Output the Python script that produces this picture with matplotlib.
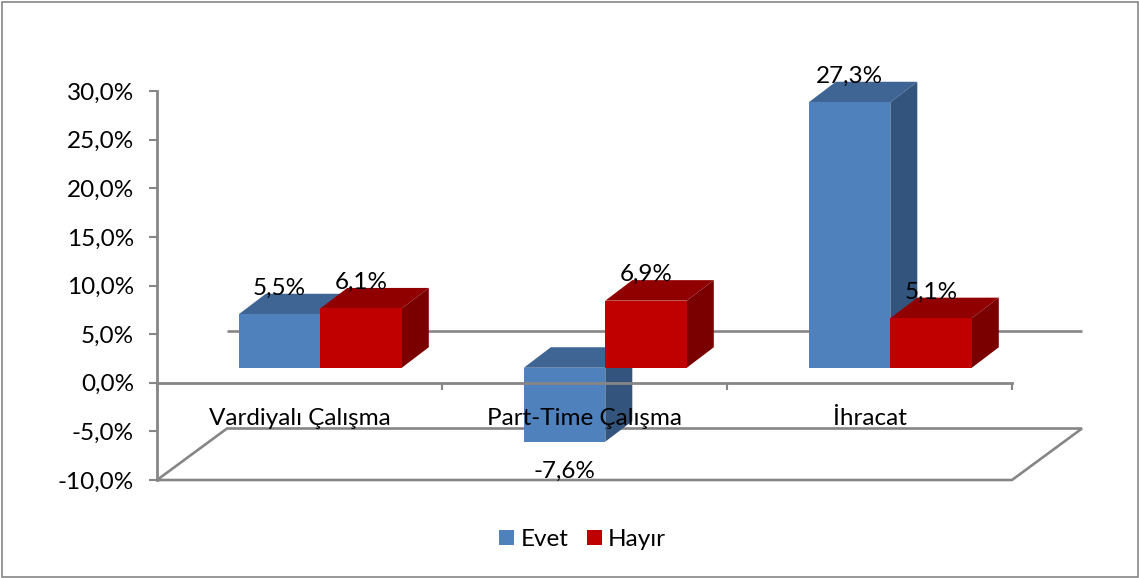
import matplotlib
matplotlib.use("Agg")
import matplotlib.pyplot as plt
from matplotlib.patches import Polygon, Patch, Rectangle

categories = ["Vardiyalı Çalışma", "Part-Time Çalışma", "İhracat"]
evet = [5.5, -7.6, 27.3]
hayir = [6.1, 6.9, 5.1]
y_ticks = [-10, -5, 0, 5, 10, 15, 20, 25, 30]
y_labels = ["-10,0%", "-5,0%", "0,0%", "5,0%", "10,0%", "15,0%", "20,0%", "25,0%", "30,0%"]
series_names = ["Evet", "Hayır"]

plt.rcParams["font.family"] = ["Lato", "DejaVu Sans"]
FS = 17.5
GRAY = "#868686"
W, H = 1139, 578
fig = plt.figure(figsize=(W / 100, H / 100), dpi=100, facecolor="white")
L, R, T, B = 157, 1012, 91, 480
ax = fig.add_axes([L / W, 1 - B / H, (R - L) / W, (B - T) / H])
ax.set_xlim(0, 3)
ax.set_ylim(-10, 30)
ax.patch.set_visible(False)
ax.set_axisbelow(False)

PX_X = 3 / (R - L)      # data units per pixel
PX_Y = 40 / (B - T)
wall_dx, wall_dy = 70 * PX_X, 51.5 * PX_Y
front_dx, front_dy = 20.8 * PX_X, 15 * PX_Y
depth_dx, depth_dy = 27 * PX_X, 20.5 * PX_Y
bar_w = 81.5 * PX_X

# floor and back edge of the zero plane
ax.add_patch(Polygon([(0, -10), (3, -10), (3 + wall_dx, -10 + wall_dy), (wall_dx, -10 + wall_dy)],
                     closed=True, fill=False, ec=GRAY, lw=1.9, zorder=1, clip_on=False))
ax.plot([wall_dx, 3 + wall_dx], [wall_dy, wall_dy], color=GRAY, lw=1.9, zorder=1,
        clip_on=False, solid_capstyle="butt")

styles = [("#4F81BD", "#3E6594", "#32547D"), ("#C00000", "#900000", "#7A0000")]


def draw_bar(x0, value, colors, z):
    front, top_c, side_c = colors
    x1 = x0 + bar_w
    hi = max(value, 0) + 0
    lo = min(value, 0)
    xa, xb = x0 + front_dx, x1 + front_dx
    ya, yb = lo + front_dy, hi + front_dy
    ax.add_patch(Polygon([(xa, yb), (xb, yb), (xb + depth_dx, yb + depth_dy), (xa + depth_dx, yb + depth_dy)],
                         closed=True, fc=top_c, ec="none", zorder=z, clip_on=False))
    ax.add_patch(Polygon([(xb, ya), (xb + depth_dx, ya + depth_dy), (xb + depth_dx, yb + depth_dy), (xb, yb)],
                         closed=True, fc=side_c, ec="none", zorder=z, clip_on=False))
    ax.add_patch(Rectangle((xa, ya), bar_w, yb - ya, fc=front, ec="none", zorder=z + 0.1, clip_on=False))
    label = f"{value:.1f}%".replace(".", ",")
    ly = yb + 26 * PX_Y if value >= 0 else ya - 30 * PX_Y
    lx = (xa + xb) / 2
    ax.text(lx, ly, label, ha="center", va="center", fontsize=FS, color="black", zorder=5, clip_on=False)


for i in range(len(categories)):
    c = i + 0.5
    draw_bar(c - bar_w, evet[i], styles[0], 2)
    draw_bar(c, hayir[i], styles[1], 2.2)

for s in ("top", "right"):
    ax.spines[s].set_visible(False)
ax.spines["bottom"].set_position(("data", 0))
for s in ("left", "bottom"):
    ax.spines[s].set_color(GRAY)
    ax.spines[s].set_linewidth(2.0)
    ax.spines[s].set_zorder(3)

ax.set_yticks(y_ticks, y_labels, fontsize=FS, color="black")
ax.tick_params(axis="y", length=5.5, width=1.5, color=GRAY, pad=11)
ax.set_xticks([0, 1, 2, 3], ["", "", "", ""])
ax.tick_params(axis="x", which="major", length=5, width=1.5, color=GRAY)
ax.set_xticks([i + 0.5 for i in range(len(categories))], categories, minor=True, fontsize=FS, color="black")
ax.tick_params(axis="x", which="minor", length=0, pad=18)

handles = [Patch(fc=styles[0][0], ec="none", label=series_names[0]),
           Patch(fc=styles[1][0], ec="none", label=series_names[1])]
fig.legend(handles=handles, loc="center", bbox_to_anchor=(582.5 / W, 1 - 539.5 / H), ncol=2, frameon=False,
           fontsize=FS, handlelength=0.62, handleheight=0.62, handletextpad=0.25, columnspacing=0.75,
           borderpad=0, borderaxespad=0)

fig.add_artist(Rectangle((1.5 / W, 1.5 / H), (W - 3) / W, (H - 3) / H, transform=fig.transFigure,
                         fill=False, ec=GRAY, lw=1.2))
fig.savefig("out.png", dpi=100)
